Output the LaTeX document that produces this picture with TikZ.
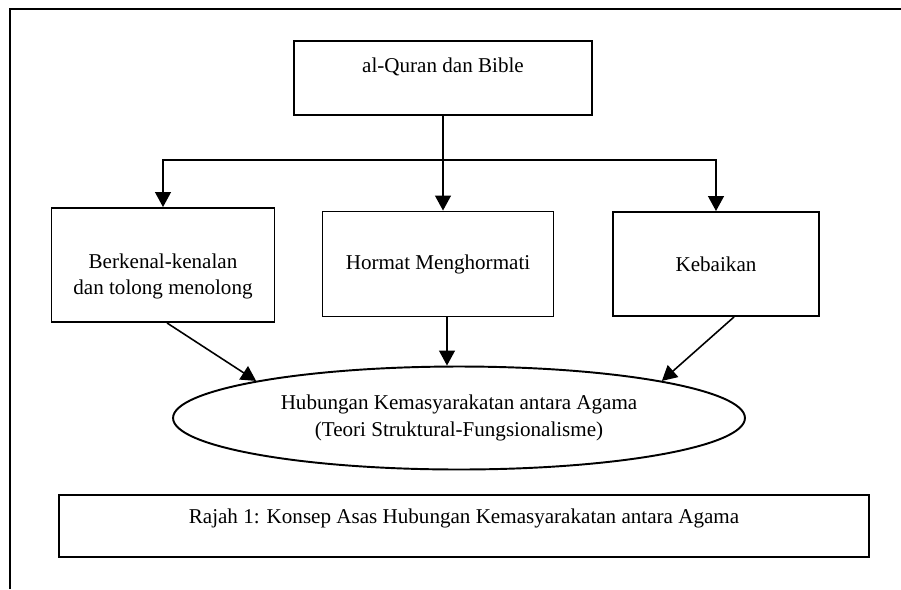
\documentclass[tikz,border=0pt]{standalone}
\usepackage{fontspec}
\setmainfont{Liberation Serif}
\usetikzlibrary{positioning,arrows.meta,shapes.geometric}

\begin{document}
\begin{tikzpicture}[x=0.02cm,y=-0.02cm,
        box/.style={draw, line width=1.1pt, align=center, font=\fontsize{12}{15}\selectfont},
        arr/.style={line width=0.9pt, -{Triangle[length=8.5pt,width=9pt]}},
        link/.style={line width=0.9pt}]

        \useasboundingbox (0,0) rectangle (901,589);
        \draw[line width=1.3pt] (10,589) -- (10,9) -- (901,9);

        \node[box, minimum width=5.96cm, minimum height=1.48cm] (quran) at (443,78) {al-Quran dan Bible\\~};

        \node[box, minimum width=4.46cm, minimum height=2.28cm] (berkenal) at (163,265) {~\\[6pt]Berkenal-kenalan\\dan tolong menolong};
        \node[box, minimum width=4.62cm, minimum height=2.10cm] (hormat) at (438,264) {Hormat Menghormati};
        \node[box, minimum width=4.12cm, minimum height=2.08cm] (kebaikan) at (716,264) {Kebaikan};

        \node[box, ellipse, minimum width=11.44cm, minimum height=2.06cm, inner sep=0pt] (hubungan) at (459,418) {Hubungan Kemasyarakatan antara Agama\\(Teori Struktural-Fungsionalisme)};

        \node[box, minimum width=16.2cm, minimum height=1.24cm] (rajah) at (464,526) {Rajah 1: Konsep Asas Hubungan Kemasyarakatan antara Agama\\[-4pt]~};

        % cabang
        \draw[link] (quran.south) -- (443,160) coordinate (split);
        \draw[arr] (split) -| (berkenal.north);
        \draw[arr] (split) -- (split |- hormat.north);
        \draw[arr] (split) -| (kebaikan.north);

        \draw[arr] ([xshift=0.08cm]berkenal.south) -- (hubungan.north west);
        \draw[arr] ([xshift=0.18cm]hormat.south) -- ([xshift=0.18cm]hormat.south |- hubungan.north);
        \draw[arr] ([xshift=0.36cm]kebaikan.south) -- (hubungan.north east);

\end{tikzpicture}
\end{document}
